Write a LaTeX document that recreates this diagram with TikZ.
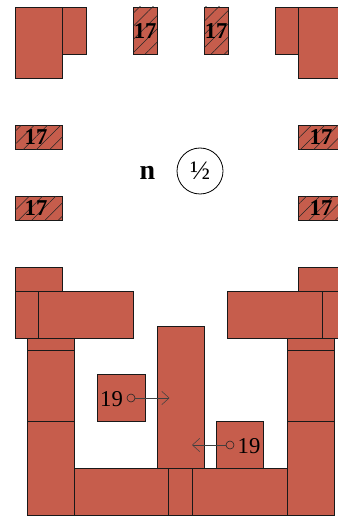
\documentclass[tikz,border=0pt]{standalone}
\usepackage{fontspec}
\setmainfont{Liberation Serif}
\usetikzlibrary{arrows.meta,patterns.meta}
\definecolor{brick}{RGB}{198,93,76}
\tikzset{
  block/.style={draw=black!90,line width=0.6pt,fill=brick},
  hatched/.style={block,postaction={pattern={Lines[angle=45,distance=7pt,line width=0.4pt]},pattern color=black!85}},
  bignum/.style={inner sep=0.75pt,font=\fontsize{17}{18}\selectfont\bfseries},
  plainnum/.style={inner sep=0.75pt,font=\fontsize{17}{18}\selectfont},
  pivot/.style={circle,draw=black!85,line width=0.45pt,inner sep=0pt,minimum size=6pt},
  pointer/.style={line width=0.45pt,black!75,-{Straight Barb[length=5.5pt,width=10pt,line width=0.4pt]}}
}
\begin{document}
\begin{tikzpicture}[x=0.75pt,y=0.75pt,yscale=-1,xscale=1]
\clip (0,0) rectangle (338,516);

%Shape: top corners
\draw [block] (15,7) rectangle (62.5,78);
\draw [block] (62.5,7) rectangle (86,54);
\draw [block] (275,7) rectangle (298.5,54);
\draw [block] (298.5,7) rectangle (346,78);

%Shape: hatched blocks
\draw [hatched] (133.5,7) rectangle (157,54);
\draw [hatched] (204.5,7) rectangle (228,54);
\draw [hatched] (15,125.5) rectangle (62.5,149.5);
\draw [hatched] (15,196.5) rectangle (62.5,220);
\draw [hatched] (298.5,125.5) rectangle (346,149.5);
\draw [hatched] (298.5,196.5) rectangle (346,220);

%Shape: left columns
\draw [block] (15,267.5) rectangle (62.5,291.5);
\draw [block] (27,338.5) rectangle (74,350);
\draw [block] (27,350) rectangle (74,421);
\draw [block] (27,421) rectangle (74,515.5);
\draw [block] (15,291.5) rectangle (38.5,338.5);
\draw [block] (38.5,291.5) rectangle (133.5,338.5);

%Shape: right columns
\draw [block] (298.5,267.5) rectangle (346,291.5);
\draw [block] (287,338.5) rectangle (334.5,350);
\draw [block] (287,350) rectangle (334.5,421);
\draw [block] (287,421) rectangle (334.5,515.5);
\draw [block] (227.5,291.5) rectangle (322.5,338.5);
\draw [block] (322.5,291.5) rectangle (346,338.5);

%Shape: centre and base
\draw [block] (157,326.5) rectangle (204.5,468.5);
\draw [block] (97.5,374) rectangle (145,421);
\draw [block] (216,421) rectangle (263.5,468.5);
\draw [block] (74,468.5) rectangle (168.5,515.5);
\draw [block] (168.5,468.5) rectangle (192,515.5);
\draw [block] (192,468.5) rectangle (287,515.5);

% Text Node
\node [bignum] (hatchtopa) at (145.2,31) {17};
\node [bignum] (hatchtopb) at (216.2,31) {17};
\node [bignum] (hatchlefta) at (36,137.5) {17};
\node [bignum] (hatchleftb) at (36,208.5) {17};
\node [bignum] (hatchrighta) at (321,137.5) {17};
\node [bignum] (hatchrightb) at (321,208.5) {17};
\node [plainnum] (numleft) at (111.5,399.5) {19};
\node [plainnum] (numright) at (249,446.5) {19};
\node [inner sep=0.75pt,font=\fontsize{21}{22}\selectfont\bfseries] (letter) at (147.5,173) {n};
\node [circle,draw,line width=0.6pt,minimum size=34.5pt,inner sep=0pt,font=\fontsize{20}{22}\selectfont] (half) at (200,171) {½};

% Pointers
\node [pivot] (pivotleft) at (131,398) {};
\coordinate (tipleft) at (169.5,398);
\draw [pointer] (pivotleft) -- (tipleft);
\node [pivot] (pivotright) at (230,445) {};
\coordinate (tipright) at (192,445);
\draw [pointer] (pivotright) -- (tipright);

\end{tikzpicture}
\end{document}
